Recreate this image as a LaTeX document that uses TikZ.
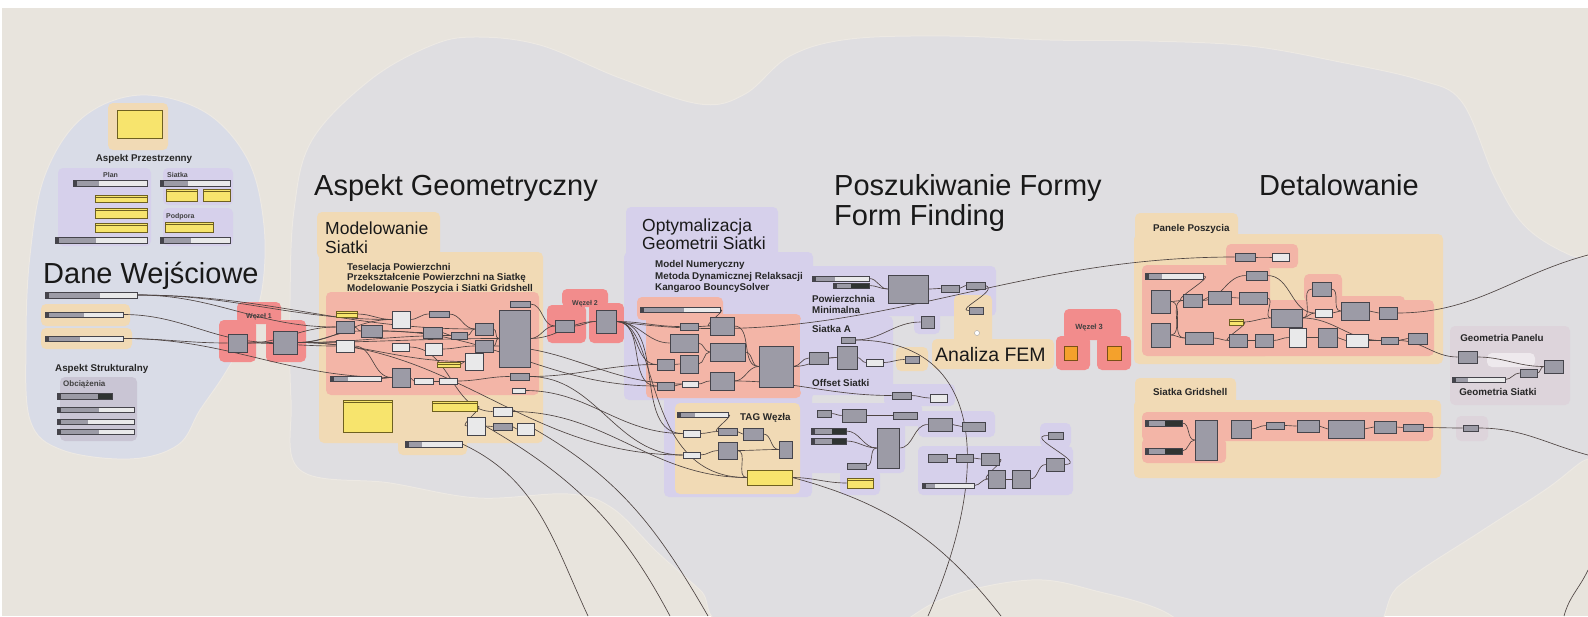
\documentclass[tikz,border=0pt]{standalone}
\usepackage{fontspec}
\setmainfont{Liberation Sans}
\usetikzlibrary{fit,calc}
\pgfdeclarelayer{bg}
\pgfdeclarelayer{wl}
\pgfsetlayers{bg,wl,main}

\definecolor{bgc}{HTML}{E8E4DD}
\definecolor{blobc}{HTML}{DFDEE1}
\definecolor{blobl}{HTML}{D9DCE7}
\definecolor{edgec}{HTML}{EDE9E3}
\definecolor{grpo}{HTML}{F1DAB5}
\definecolor{grpr}{HTML}{F3B5A7}
\definecolor{grpp}{HTML}{D6D0EB}
\definecolor{grpw}{HTML}{F28C8C}
\definecolor{grpg}{HTML}{C9C5D4}
\definecolor{grpk}{HTML}{DDD4DB}
\definecolor{compc}{HTML}{9C9BA6}
\definecolor{compd}{HTML}{45444B}
\definecolor{panc}{HTML}{E9E9EA}
\definecolor{ylwc}{HTML}{F7E46D}
\definecolor{ylwd}{HTML}{6E6020}
\definecolor{sldk}{HTML}{2F3432}
\definecolor{wirec}{HTML}{4E4442}
\definecolor{orgc}{HTML}{F4A12C}

% components: name, x1, y1, x2, y2
\newcommand{\gcomp}[5]{\node[comp, fit={(#2,#3) (#4,#5)}] (#1) {};}
\newcommand{\gpanel}[5]{\node[pnl, fit={(#2,#3) (#4,#5)}] (#1) {};}
\newcommand{\gyellow}[5]{\node[ylw, fit={(#2,#3) (#4,#5)}] (#1) {};}
% slider: name, x1, y1, x2, y2, split, colour of right part
\newcommand{\gslider}[7]{%
  \node[sld, fit={(#2,#3) (#4,#5)}] (#1) {};
  \fill[compc] (#1.north west) rectangle ($(#1.south west)!#6!(#1.south east)$);
  \fill[#7] ($(#1.north west)!#6!(#1.north east)$) rectangle (#1.south east);
  \fill[compd] ([xshift=1pt]#1.north west) rectangle ([xshift=4pt]#1.south west);
  \draw[compd, line width=0.5pt] (#1.north west) rectangle (#1.south east);}
\newcommand{\wire}[2]{\draw[wire] (#1.east) to[out=0,in=180] (#2.west);}

\begin{document}
\begin{tikzpicture}[x=1pt,y=-1pt,
  comp/.style={draw=compd, fill=compc, line width=0.6pt, inner sep=0pt},
  pnl/.style={draw=compd, fill=panc, line width=0.6pt, inner sep=0pt},
  ylw/.style={draw=ylwd, fill=ylwc, line width=0.6pt, inner sep=0pt,
    path picture={\draw[ylwd, line width=0.4pt]
      ([yshift=-2.5pt]path picture bounding box.north west) --
      ([yshift=-2.5pt]path picture bounding box.north east);}},
  sld/.style={draw=compd, fill=panc, line width=0.5pt, inner sep=0pt},
  wire/.style={draw=wirec, line width=0.65pt},
  rc/.style={rounded corners=5pt},
  ttl/.style={font=\fontsize{29}{33}\selectfont, anchor=base west, inner sep=0pt, text=black!90},
  sub/.style={font=\fontsize{17.5}{20}\selectfont, anchor=base west, inner sep=0pt, text=black!90},
  lbl/.style={font=\fontsize{9.8}{11}\selectfont\bfseries, anchor=base west, inner sep=0pt, text=black!85},
  tiny/.style={font=\fontsize{7}{8}\selectfont\bfseries, anchor=base west, inner sep=0pt, text=black!75}]
\useasboundingbox (0,0) rectangle (1588,616);

\begin{pgfonlayer}{bg}
  \fill[white] (0,0) rectangle (1588,616);
  \fill[bgc] (2,8) rectangle (1588,616);
  \begin{scope}
    \clip (2,8) rectangle (1588,616);
    % main field
    \filldraw[fill=blobc, draw=edgec, line width=1pt] plot[smooth cycle, tension=0.6] coordinates {
      (300,470) (291,400) (290,300) (294,210) (312,140) (370,80) (430,46) (474,37)
      (540,45) (620,78) (700,104) (745,94) (790,56) (850,39) (950,36) (1050,40)
      (1150,41) (1250,46) (1340,62) (1420,80) (1462,102) (1495,178) (1525,226)
      (1570,255) (1625,272) (1625,430) (1580,463) (1545,490) (1480,532) (1400,585)
      (1335,645) (1000,650)
      (745,632) (700,590) (657,552) (612,508) (568,494) (478,498) (390,483)};
    \filldraw[fill=bgc, draw=edgec, line width=1pt] plot[smooth, tension=0.6] coordinates {
      (875,645) (940,600) (1031,580) (1100,592) (1165,612) (1205,645)} -- cycle;
    % input field
    \filldraw[fill=blobl, draw=edgec, line width=1pt] plot[smooth cycle, tension=0.6] coordinates {
      (140,95) (205,112) (248,160) (264,225) (262,290) (246,335) (224,375) (200,410)
      (178,445) (130,459) (62,450) (30,420) (26,340) (30,255) (45,175) (82,118)};
  \end{scope}

  % groups: Dane Wejsciowe
  \fill[grpo, rc] (108,103) rectangle (168,150);
  \fill[grpp, rc] (58,168) rectangle (151,246);
  \fill[grpp, rc] (163,168) rectangle (233,205);
  \fill[grpp, rc] (163,208) rectangle (233,246);
  \fill[grpo, rc] (41,304) rectangle (130,326);
  \fill[grpo, rc] (41,328) rectangle (132,349);
  \fill[grpg, rc] (60,377) rectangle (137,441);
  % Wezel 1
  \fill[grpw, rc] (237,302) rectangle (281,324);
  \fill[grpw, rc] (219,320) rectangle (256,362);
  \fill[grpw, rc] (266,320) rectangle (306,362);
  % Modelowanie Siatki
  \fill[grpo, rc] (317,212) rectangle (440,258);
  \fill[grpo, rc] (319,252) rectangle (543,443);
  \fill[grpo, rc] (398,434) rectangle (467,455);
  \fill[grpr, rc] (326,292) rectangle (539,395);
  % Wezel 2
  \fill[grpw, rc] (562,289) rectangle (608,307);
  \fill[grpw, rc] (547,305) rectangle (586,343);
  \fill[grpw, rc] (589,303) rectangle (624,343);
  % Optymalizacja
  \fill[grpp, rc] (626,207) rectangle (778,258);
  \fill[grpp, rc] (624,252) rectangle (813,400);
  \fill[grpp, rc] (664,392) rectangle (812,497);
  \fill[grpr, rc] (637,297) rectangle (723,320);
  \fill[grpr, rc] (646,314) rectangle (801,398);
  \fill[grpo, rc] (675,403) rectangle (800,494);
  % Form finding
  \fill[grpp, rc] (806,266) rectangle (996,316);
  \fill[grpp, rc] (800,316) rectangle (893,395);
  \fill[grpp, rc] (914,310) rectangle (940,334);
  \fill[grpo, rc] (896,347) rectangle (928,371);
  \fill[grpo, rc] (954,295) rectangle (992,345);
  \fill[grpo, rc] (932,339) rectangle (1054,369);
  \fill[grpp, rc] (884,384) rectangle (955,406);
  \fill[grpp, rc] (805,403) rectangle (922,426);
  \fill[grpp, rc] (805,422) rectangle (905,473);
  \fill[grpp, rc] (840,470) rectangle (880,495);
  \fill[grpp, rc] (918,411) rectangle (995,437);
  \fill[grpp, rc] (918,446) rectangle (1073,495);
  \fill[grpp, rc] (1040,423) rectangle (1071,447);
  % Wezel 3
  \fill[grpw, rc] (1064,309) rectangle (1121,340);
  \fill[grpw, rc] (1056,336) rectangle (1090,370);
  \fill[grpw, rc] (1097,336) rectangle (1131,370);
  % Detalowanie
  \fill[grpo, rc] (1135,213) rectangle (1238,240);
  \fill[grpo, rc] (1134,234) rectangle (1443,364);
  \fill[grpr, rc] (1226,244) rectangle (1298,268);
  \fill[grpr, rc] (1142,265) rectangle (1270,356);
  \fill[grpr, rc] (1225,300) rectangle (1434,356);
  \fill[grpr, rc] (1304,274) rectangle (1342,302);
  \fill[grpr, rc] (1334,296) rectangle (1405,328);
  \fill[grpk, rc] (1450,326) rectangle (1570,405);
  \fill[white, opacity=0.5, rc] (1487,353) rectangle (1535,367);
  \fill[grpo, rc] (1135,378) rectangle (1236,405);
  \fill[grpo, rc] (1134,400) rectangle (1441,478);
  \fill[grpr, rc] (1142,412) rectangle (1433,441);
  \fill[grpr, rc] (1142,438) rectangle (1226,463);
  \fill[grpk, rc] (1456,416) rectangle (1488,441);
\end{pgfonlayer}

% titles
\node[ttl] (tDane) at (43,283) {Dane Wejściowe};
\node[ttl] (tAspGeo) at (314,195) {Aspekt Geometryczny};
\node[ttl] (tPosz) at (834,195) {Poszukiwanie Formy};
\node[ttl] (tForm) at (834,225) {Form Finding};
\node[ttl] (tDetal) at (1259,195) {Detalowanie};
\node[sub] (tModel1) at (325,234) {Modelowanie};
\node[sub] (tModel2) at (325,253) {Siatki};
\node[sub] (tOpt1) at (642,231) {Optymalizacja};
\node[sub] (tOpt2) at (642,249) {Geometrii Siatki};
\node[sub, font=\fontsize{19.5}{22}\selectfont] (tFem) at (935,361) {Analiza FEM};

% labels
\node[lbl, anchor=base] (tAP) at (144,161) {Aspekt Przestrzenny};
\node[lbl] (tAS) at (55,371) {Aspekt Strukturalny};
\node[tiny, font=\fontsize{8}{9}\selectfont\bfseries] (tObc) at (63,386) {Obciążenia};
\node[tiny] (tPlan) at (103,177) {Plan};
\node[tiny] (tSiatka) at (167,177) {Siatka};
\node[tiny] (tPod) at (166,218) {Podpora};
\node[tiny, anchor=base] (tW1) at (259,318) {Węzeł 1};
\node[tiny, anchor=base] (tW2) at (585,305) {Węzeł 2};
\node[tiny, anchor=base, font=\fontsize{7.5}{8}\selectfont\bfseries] (tW3) at (1089,329) {Węzeł 3};
\node[lbl] (tMs1) at (347,270) {Teselacja Powierzchni};
\node[lbl] (tMs2) at (347,280.7) {Przekształcenie Powierzchni na Siatkę};
\node[lbl] (tMs3) at (347,291) {Modelowanie Poszycia i Siatki Gridshell};
\node[lbl] (tOs1) at (655,267.7) {Model Numeryczny};
\node[lbl] (tOs2) at (655,279) {Metoda Dynamicznej Relaksacji};
\node[lbl] (tOs3) at (655,290) {Kangaroo BouncySolver};
\node[lbl] (tPow1) at (812,302.3) {Powierzchnia};
\node[lbl] (tPow2) at (812,313.3) {Minimalna};
\node[lbl] (tSiA) at (812,332.7) {Siatka A};
\node[lbl] (tOff) at (812,386.7) {Offset Siatki};
\node[lbl] (tTag) at (740,420.7) {TAG Węzła};
\node[lbl] (tPan) at (1153,231.7) {Panele Poszycia};
\node[lbl] (tGrid) at (1153,395) {Siatka Gridshell};
\node[lbl, anchor=base] (tGP) at (1502,341.7) {Geometria Panelu};
\node[lbl, anchor=base] (tGS) at (1498,395) {Geometria Siatki};

% Dane Wejsciowe
\node[fill=ylwc, draw=ylwd, line width=0.6pt, inner sep=0pt, fit={(117,110) (162,138)}] (apY) {};
\gslider{plS1}{73}{180}{147}{186}{0.35}{panc}
\gyellow{plY1}{95}{195}{147}{202}
\gyellow{plY2}{95}{208}{147}{218}
\gyellow{plY3}{95}{223}{147}{232}
\gslider{plS2}{55}{237}{147}{243}{0.45}{panc}
\gslider{siS}{160}{180}{230}{186}{0.4}{panc}
\gyellow{siY1}{166}{189}{197}{201}
\gyellow{siY2}{203}{189}{230}{201}
\gyellow{poY}{165}{222}{213}{232}
\gslider{poS}{160}{237}{230}{243}{0.45}{panc}
\gslider{inS1}{45}{292}{137}{298}{0.6}{panc}
\gslider{inS2}{45}{312}{123}{317}{0.5}{panc}
\gslider{inS3}{45}{336}{123}{341}{0.45}{panc}
\gslider{obS1}{57}{393}{112}{399}{0.75}{sldk}
\gslider{obS2}{57}{407}{134}{412}{0.55}{panc}
\gslider{obS3}{57}{419}{134}{424}{0.4}{panc}
\gslider{obS4}{57}{429}{134}{434}{0.55}{panc}

% Wezel 1
\gcomp{w1a}{228}{334}{247}{352}
\gcomp{w1b}{273}{331}{297}{354}

% Modelowanie Siatki
\gyellow{mY1}{336}{311}{357}{317}
\gcomp{mC1}{336}{321}{354}{333}
\gcomp{mC2}{361}{325}{382}{337}
\gpanel{mP1}{336}{340}{354}{352}
\gpanel{mP2}{392}{311}{410}{328}
\gpanel{mP3}{392}{343}{409}{351}
\gcomp{mC3}{429}{311}{449}{317}
\gcomp{mC4}{423}{327}{442}{338}
\gpanel{mP4}{425}{343}{442}{355}
\gcomp{mC5}{451}{332}{467}{339}
\gcomp{mC6}{475}{323}{493}{335}
\gcomp{mC7}{475}{340}{493}{352}
\gpanel{mP5}{465}{353}{483}{370}
\gyellow{mY2}{437}{362}{460}{367}
\gcomp{mBig}{499}{310}{530}{367}
\gcomp{mC8}{510}{301}{530}{307}
\gslider{mS1}{330}{376}{381}{381}{0.35}{panc}
\gcomp{mC9}{392}{368}{410}{387}
\gpanel{mP6}{414}{378}{433}{384}
\gpanel{mP7}{439}{378}{457}{384}
\gcomp{mC10}{510}{373}{529}{380}
\gpanel{mP8}{512}{388}{525}{393}
\gyellow{mY3}{343}{400}{392}{432}
\gyellow{mY4}{432}{401}{477}{411}
\gpanel{mP11}{493}{407}{512}{416}
\gpanel{mP9}{467}{417}{485}{435}
\gcomp{mC11}{493}{423}{512}{430}
\gpanel{mP10}{517}{423}{534}{435}
\gslider{mS2}{405}{441}{462}{447}{0.3}{panc}

% Wezel 2
\gcomp{w2a}{555}{320}{574}{332}
\gcomp{w2b}{596}{310}{616}{333}

% Optymalizacja
\gslider{oS1}{640}{307}{720}{312}{0.55}{panc}
\gcomp{oC1}{680}{323}{698}{330}
\gcomp{oC2}{710}{317}{734}{335}
\gcomp{oC3}{670}{334}{698}{352}
\gcomp{oC4}{710}{343}{745}{361}
\gcomp{oC5}{657}{359}{674}{370}
\gcomp{oC6}{680}{355}{698}{373}
\gcomp{oC7}{657}{382}{674}{390}
\gpanel{oP1}{682}{381}{698}{387}
\gcomp{oC8}{710}{372}{734}{390}
\gcomp{oBig}{759}{346}{793}{387}

% TAG Wezla
\gslider{tS1}{677}{412}{728}{417}{0.35}{panc}
\gpanel{tP1}{683}{430}{700}{437}
\gpanel{tP2}{683}{452}{700}{458}
\gcomp{tC1}{718}{428}{737}{435}
\gcomp{tC2}{743}{428}{763}{440}
\gcomp{tC3}{718}{442}{737}{459}
\gcomp{tC4}{779}{441}{792}{458}
\node[fill=ylwc, draw=ylwd, line width=0.6pt, inner sep=0pt, fit={(747,470) (792,485)}] (tY1) {};

% Powierzchnia Minimalna, Siatka A
\gslider{pS1}{812}{276}{869}{281}{0.4}{panc}
\gslider{pS2}{833}{283}{869}{288}{0.5}{sldk}
\gcomp{pC1}{888}{275}{928}{303}
\gcomp{pC2}{941}{285}{959}{292}
\gcomp{pC3}{966}{282}{985}{289}
\gcomp{sC1}{841}{337}{855}{343}
\gcomp{sC2}{837}{346}{857}{369}
\gcomp{sC3}{809}{352}{828}{364}
\gpanel{sP1}{866}{359}{883}{366}
\gcomp{xC1}{921}{316}{934}{328}
\gcomp{xC2}{905}{356}{919}{363}
\gcomp{fC1}{969}{307}{983}{314}
\node[circle, draw=compd!50, fill=white, inner sep=0pt, minimum size=5pt] (fDot) at (977,333) {};

% lower form finding
\gcomp{rC1}{892}{392}{911}{399}
\gpanel{rP1}{930}{394}{947}{402}
\gcomp{rC2}{817}{410}{831}{417}
\gcomp{rC3}{842}{409}{866}{422}
\gcomp{rC4}{893}{412}{917}{419}
\gslider{rS1}{811}{428}{846}{434}{0.6}{sldk}
\gslider{rS2}{811}{438}{846}{444}{0.6}{sldk}
\gcomp{rC5}{877}{428}{899}{468}
\gcomp{rC6}{847}{463}{866}{469}
\gyellow{rY1}{847}{478}{873}{488}
\gcomp{rC7}{928}{418}{952}{431}
\gcomp{rC8}{962}{422}{985}{431}
\gcomp{rC9}{928}{454}{947}{462}
\gcomp{rC10}{956}{454}{973}{462}
\gcomp{rC11}{981}{453}{999}{465}
\gcomp{rC12}{988}{470}{1005}{488}
\gcomp{rC13}{1012}{470}{1030}{488}
\gcomp{rC14}{1046}{458}{1064}{471}
\gcomp{rC15}{1048}{432}{1063}{439}
\gslider{rS3}{922}{483}{974}{488}{0.25}{panc}

% Wezel 3
\node[fill=orgc, draw=orgc!50!black, line width=0.6pt, inner sep=0pt, fit={(1064,346) (1077,360)}] (w3a) {};
\node[fill=orgc, draw=orgc!50!black, line width=0.6pt, inner sep=0pt, fit={(1107,346) (1121,360)}] (w3b) {};

% Panele Poszycia
\gcomp{ppC1}{1235}{253}{1255}{261}
\gpanel{ppP1}{1272}{253}{1289}{261}
\gslider{ppS1}{1145}{273}{1203}{279}{0.3}{panc}
\gcomp{ppC2}{1246}{271}{1267}{280}
\gcomp{ppC3}{1151}{290}{1170}{313}
\gcomp{ppC4}{1151}{323}{1170}{347}
\gcomp{ppC5}{1183}{294}{1202}{307}
\gcomp{ppC6}{1208}{291}{1231}{304}
\gcomp{ppC7}{1239}{292}{1267}{304}
\gcomp{ppC8}{1185}{332}{1213}{344}
\gyellow{ppY1}{1229}{319}{1243}{325}
\gcomp{ppC9}{1271}{309}{1302}{327}
\gpanel{ppP2}{1315}{309}{1332}{317}
\gcomp{ppC10}{1312}{282}{1331}{296}
\gcomp{ppC11}{1341}{302}{1369}{320}
\gcomp{ppC12}{1379}{307}{1397}{319}
\gcomp{ppC13}{1229}{334}{1247}{347}
\gcomp{ppC14}{1255}{334}{1273}{347}
\gpanel{ppP3}{1289}{328}{1306}{347}
\gcomp{ppC15}{1318}{328}{1337}{347}
\gpanel{ppP4}{1346}{334}{1368}{347}
\gcomp{ppC16}{1381}{337}{1398}{344}
\gcomp{ppC17}{1408}{333}{1427}{344}

% Geometria
\gcomp{gC1}{1458}{351}{1477}{363}
\gcomp{gC2}{1544}{360}{1563}{373}
\gcomp{gC3}{1520}{369}{1537}{377}
\gslider{gS1}{1452}{377}{1505}{382}{0.3}{panc}

% Siatka Gridshell
\gslider{gsS1}{1145}{420}{1182}{426}{0.55}{sldk}
\gslider{gsS2}{1145}{448}{1182}{454}{0.55}{sldk}
\gcomp{gsC1}{1195}{420}{1217}{460}
\gcomp{gsC2}{1231}{420}{1251}{438}
\gcomp{gsC3}{1266}{422}{1284}{429}
\gcomp{gsC4}{1297}{420}{1319}{432}
\gcomp{gsC5}{1328}{420}{1364}{438}
\gcomp{gsC6}{1374}{421}{1396}{433}
\gcomp{gsC7}{1403}{424}{1423}{431}
\gcomp{gsC8}{1463}{425}{1478}{431}

% free ends
\coordinate (eB1) at (588,616);
\coordinate (eB2) at (670,616);
\coordinate (eB3) at (708,616);
\coordinate (eB4) at (928,616);
\coordinate (eB5) at (1001,616);
\coordinate (eR1) at (1588,255);
\coordinate (eR2) at (1588,455);
\coordinate (eX1) at (1564,616);
\coordinate (eX2) at (1588,570);

\begin{pgfonlayer}{wl}
  % inputs
  \wire{inS1}{mC1} \wire{inS1}{mP2} \wire{inS1}{mC6}
  \wire{inS2}{w1b} \wire{inS3}{w1a} \wire{inS3}{mC9}
  \wire{w1a}{mC1} \wire{w1a}{mP1} \wire{w1b}{mC2} \wire{w1b}{mP2}
  \wire{w1b}{mC5} \wire{w1b}{mP5} \wire{w1b}{mBig} \wire{w1b}{tP2}
  % modelowanie
  \wire{mY1}{mP2} \wire{mC1}{mC2} \wire{mC2}{mC4} \wire{mP1}{mC9}
  \wire{mP2}{mC3} \wire{mC3}{mC6} \wire{mC4}{mC5} \wire{mC5}{mC6}
  \wire{mC6}{mBig} \wire{mC7}{mBig} \wire{mP4}{mC7} \wire{mY2}{mP5}
  \wire{mS1}{mC9} \wire{mC9}{mP6} \wire{mP6}{mP7} \wire{mP7}{mC10}
  \wire{mP3}{mP11} \wire{mY4}{mP9} \wire{mP9}{mC11} \wire{mC11}{mP10}
  \wire{mC8}{w2a} \wire{mBig}{w2a} \wire{mBig}{w2b}
  \wire{mC10}{oC5} \wire{mP8}{tP1} \wire{mC10}{tP2} \wire{mC2}{oC7}
  \wire{mC7}{oP1} \wire{mP11}{tY1}
  \draw[wire] (mS2.east) to[out=-25,in=115] (eB1);
  \draw[wire] (mP9.east) to[out=-30,in=118] (eB2);
  \draw[wire] (mP10.east) to[out=-30,in=120] (eB3);
  % wezel 2, optymalizacja
  \wire{w2a}{w2b}
  \wire{w2b}{oC1} \wire{w2b}{oC3} \wire{w2b}{oC5} \wire{w2b}{oC7} \wire{w2b}{tP1}
  \draw[wire] (w2b.east) .. controls (660,320) and (640,478) .. (tY1.west);
  \draw[wire] (w2b.east) to[out=-8,in=180] (ppC1.west);
  \wire{oS1}{oC2} \wire{oC1}{oC2} \wire{oC3}{oC4} \wire{oC2}{oBig}
  \wire{oC4}{oBig} \wire{oC6}{oC4} \wire{oC5}{oC6} \wire{oC7}{oP1}
  \wire{oP1}{oC8} \wire{oC8}{oBig} \wire{oBig}{sC3} \wire{oBig}{sC2}
  \wire{oC8}{rC1}
  % tag wezla
  \wire{tS1}{tC1} \wire{tP1}{tC1} \wire{tC1}{tC2} \wire{tP2}{tC3}
  \wire{tC3}{tC4} \wire{tC2}{tC4} \wire{tC3}{tY1} \wire{tY1}{rY1}
  \draw[wire] (tY1.east) to[out=-15,in=128] (eB5);
  % form finding
  \wire{pS1}{pC1} \wire{pS2}{pC1} \wire{pC1}{pC2} \wire{pC2}{pC3}
  \draw[wire] (pC3.east) .. controls (1000,290) and (955,310) .. (fC1.west);
  \wire{sC3}{sC2} \wire{sC2}{sP1} \wire{sP1}{xC2} \wire{sC1}{xC1}
  \draw[wire] (sC1.east) .. controls (985,340) and (992,470) .. (eB4);
  \wire{rC1}{rP1} \wire{rC2}{rC3} \wire{rC3}{rC4} \wire{rS1}{rC5}
  \wire{rS2}{rC5} \wire{rC6}{rC5} \wire{rC5}{rC7} \wire{rC7}{rC8}
  \wire{rC9}{rC10} \wire{rC10}{rC11} \wire{rC11}{rC12} \wire{rC12}{rC13}
  \wire{rC13}{rC14} \wire{rS3}{rC12}
  \draw[wire] (rC15.west) to[out=180,in=0,looseness=2] (rC14.east);
  % panele poszycia
  \wire{ppC1}{ppP1} \wire{ppS1}{ppC5} \wire{ppC3}{ppC5} \wire{ppC4}{ppC5}
  \wire{ppC3}{ppC8} \wire{ppC4}{ppC8} \wire{ppC5}{ppC6} \wire{ppC6}{ppC7}
  \wire{ppC5}{ppC2} \wire{ppC2}{ppP2} \wire{ppC7}{ppC9} \wire{ppC8}{ppC13}
  \wire{ppY1}{ppC9} \wire{ppY1}{ppC13} \wire{ppC13}{ppC14} \wire{ppC14}{ppP3}
  \wire{ppP3}{ppC15} \wire{ppC15}{ppP4} \wire{ppP4}{ppC16} \wire{ppC16}{ppC17}
  \wire{ppC9}{ppP2} \wire{ppC9}{ppC10} \wire{ppP2}{ppC11} \wire{ppC10}{ppC11}
  \wire{ppC11}{ppC12} \wire{ppC9}{ppC16} \wire{ppC16}{gC1}
  \draw[wire] (ppC12.east) to[out=0,in=195] (eR1);
  % geometria
  \wire{gC1}{gC2} \wire{gS1}{gC3} \wire{gC3}{gC2}
  % gridshell
  \wire{gsS1}{gsC1} \wire{gsS2}{gsC1} \wire{gsC2}{gsC3} \wire{gsC3}{gsC4}
  \wire{gsC4}{gsC5} \wire{gsC5}{gsC6} \wire{gsC6}{gsC7} \wire{gsC7}{gsC8}
  \draw[wire] (gsC8.east) to[out=0,in=165] (eR2);
  \draw[wire] (eX1) to[out=75,in=245] (eX2);
\end{pgfonlayer}
\end{tikzpicture}
\end{document}
